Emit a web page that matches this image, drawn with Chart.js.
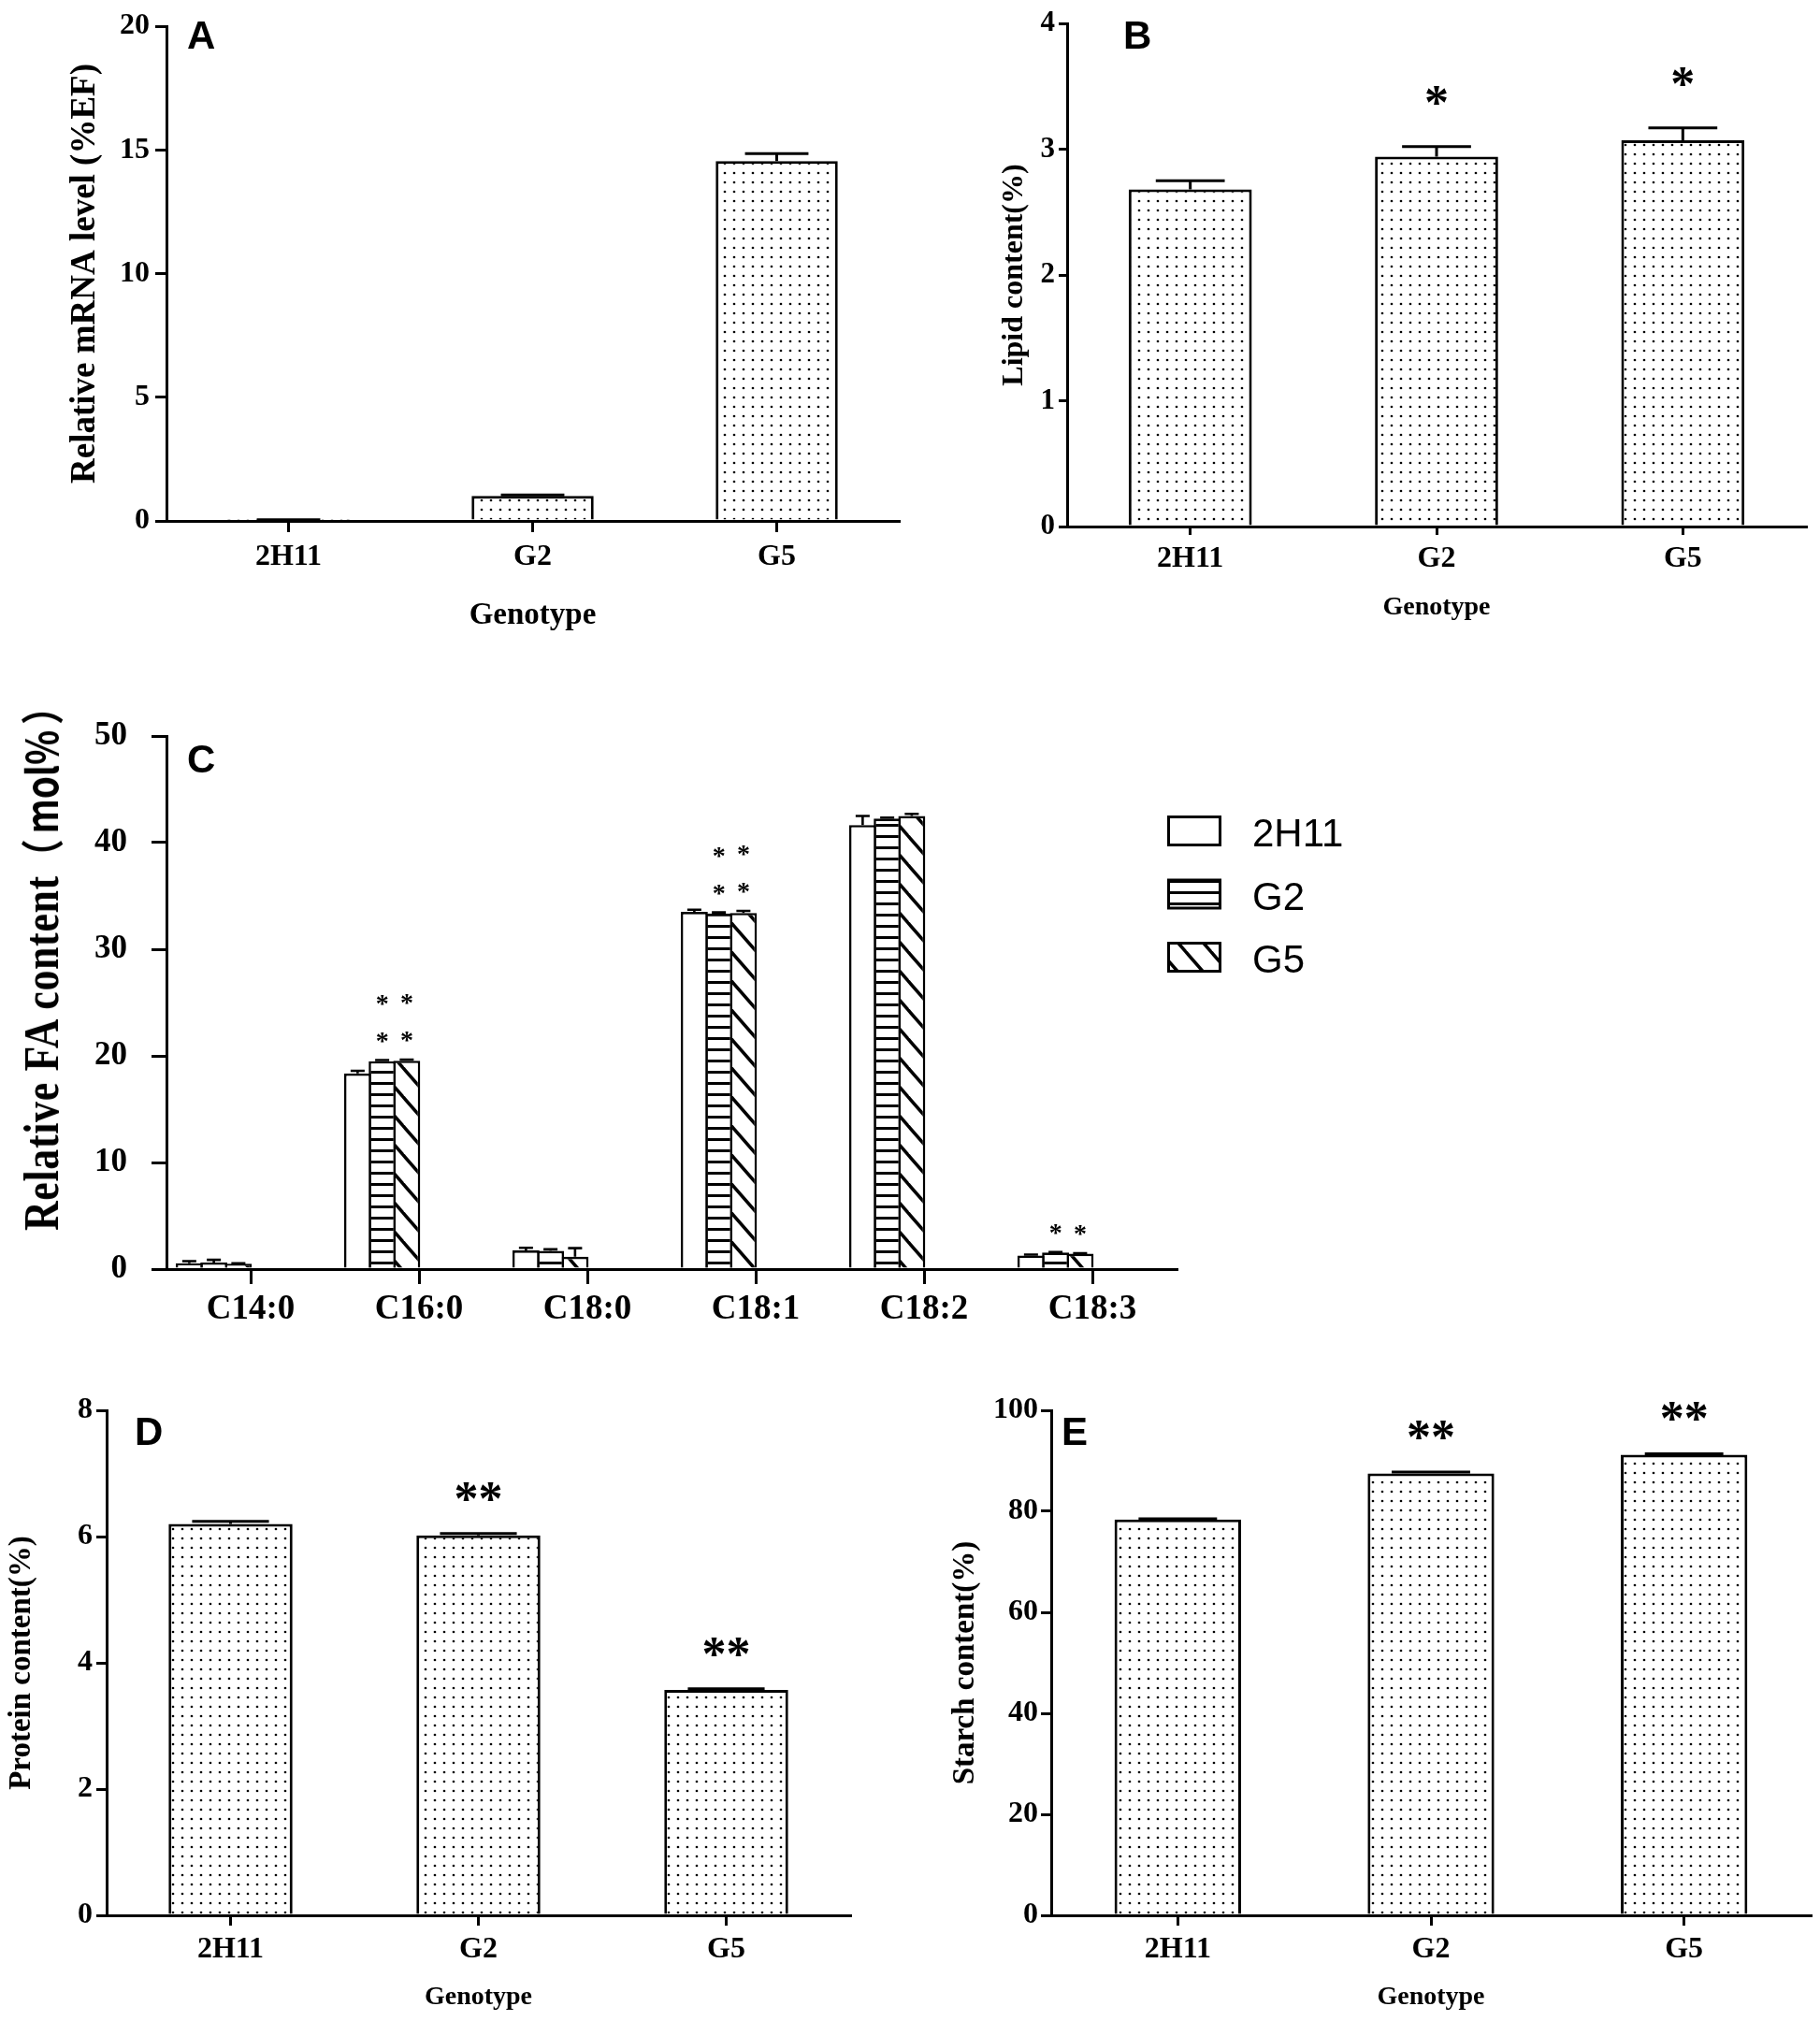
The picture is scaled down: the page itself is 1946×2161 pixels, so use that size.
<!DOCTYPE html>
<html><head><meta charset="utf-8">
<script src="https://cdn.jsdelivr.net/npm/chart.js@4.4.1/dist/chart.umd.min.js"></script>
<style>
html,body{margin:0;padding:0;background:#fff;}
body{width:1946px;height:2161px;position:relative;overflow:hidden;}
canvas.panel{position:absolute;display:block;}
.letter{position:absolute;font:bold 42px 'Liberation Sans',Arial,sans-serif;line-height:1;color:#000;}
#ctitle{position:absolute;left:42px;top:1026px;white-space:nowrap;color:#000;line-height:1;
  font:bold 52px 'Liberation Serif','Times New Roman',serif;letter-spacing:0.9px;
  transform:translate(-50%,-50%) rotate(-90deg) scaleX(0.84);}
#ctitle .cjk{font:bold 46px 'Noto Sans CJK SC','Noto Sans',sans-serif;letter-spacing:0;}
#ctitle .unit{display:inline-block;margin:0 7px;}
</style></head><body>
<canvas id="cA" class="panel" style="left:0px;top:0px" width="973" height="700"></canvas>
<canvas id="cB" class="panel" style="left:973px;top:0px" width="973" height="700"></canvas>
<canvas id="cC" class="panel" style="left:0px;top:740px" width="1460" height="700"></canvas>
<canvas id="cD" class="panel" style="left:0px;top:1470px" width="973" height="691"></canvas>
<canvas id="cE" class="panel" style="left:973px;top:1470px" width="973" height="691"></canvas>
<div class="letter" style="left:200px;top:17px">A</div>
<div class="letter" style="left:1201px;top:17px">B</div>
<div class="letter" style="left:200px;top:791px">C</div>
<div class="letter" style="left:144px;top:1510px">D</div>
<div class="letter" style="left:1135px;top:1510px">E</div>
<div id="ctitle">Relative FA content<span class="cjk">（<span class="unit">mol%</span>）</span></div>
<script>
// ---------- data ----------
const genotypes = ['2H11', 'G2', 'G5'];

const mrnaLevel = [0.02, 1.01, 14.55];
const mrnaErr   = [0.03, 0.04, 0.30];
const mrnaTicks = [0, 5, 10, 15, 20];

const lipidContent = [2.68, 2.94, 3.07];
const lipidErr     = [0.07, 0.08, 0.10];
const lipidSig     = ['', '*', '*'];
const lipidTicks   = [0, 1, 2, 3, 4];

const faTypes   = ['C14:0', 'C16:0', 'C18:0', 'C18:1', 'C18:2', 'C18:3'];
const fa2H11    = [0.55, 18.35, 1.75, 33.50, 41.65, 1.28];
const fa2H11Err = [0.20, 0.25, 0.25, 0.20, 0.85, 0.08];
const faG2      = [0.62, 19.50, 1.70, 33.35, 42.25, 1.55];
const faG2Err   = [0.25, 0.10, 0.15, 0.10, 0.10, 0.05];
const faG5      = [0.50, 19.55, 1.16, 33.40, 42.50, 1.44];
const faG5Err   = [0.05, 0.10, 0.80, 0.20, 0.20, 0.05];
const faSigRowsG2 = [0, 2, 0, 2, 0, 1];
const faSigRowsG5 = [0, 2, 0, 2, 0, 1];
const faTicks   = [0, 10, 20, 30, 40, 50];

const proteinContent = [6.20, 6.02, 3.57];
const proteinErr     = [0.04, 0.03, 0.02];
const proteinSig     = ['', '**', '**'];
const proteinTicks   = [0, 2, 4, 6, 8];

const starchContent = [78.4, 87.5, 91.2];
const starchErr     = [0.1, 0.3, 0.2];
const starchSig     = ['', '**', '**'];
const starchTicks   = [0, 20, 40, 60, 80, 100];

// ---------- patterns ----------
function makePattern(w, h, draw) {
  const c = document.createElement('canvas'); c.width = w; c.height = h;
  const g = c.getContext('2d'); g.fillStyle = '#fff'; g.fillRect(0, 0, w, h);
  draw(g, w, h);
  return g.createPattern(c, 'repeat');
}
const dotFill = makePattern(10, 10, g => { g.fillStyle = '#000'; g.beginPath(); g.arc(5, 5, 1.35, 0, Math.PI * 2); g.fill(); });
const hLineFill = makePattern(8, 12, g => { g.fillStyle = '#000'; g.fillRect(0, 9, 8, 3); });
const diagFill = makePattern(27, 31, (g, w, h) => {
  g.strokeStyle = '#000'; g.lineWidth = 3.5;
  for (let n = -1; n <= 1; n++) { g.beginPath(); g.moveTo(n * w - w, -h); g.lineTo(n * w + 2 * w, 2 * h); g.stroke(); }
});

// ---------- plugins ----------
const errorBars = {
  id: 'errorBars',
  afterDatasetsDraw(chart) {
    const o = chart.config.options.plugins.errorBars;
    const ctx = chart.ctx, ys = chart.scales.y;
    chart.data.datasets.forEach((ds, di) => {
      if (!ds.errors) return;
      chart.getDatasetMeta(di).data.forEach((el, i) => {
        const v = ds.data[i], e = ds.errors[i];
        if (v == null || e == null) return;
        const top = ys.getPixelForValue(v + e);
        const half = el.width * o.capRatio / 2;
        ctx.save();
        ctx.strokeStyle = '#000'; ctx.lineWidth = o.lineWidth;
        ctx.beginPath();
        ctx.moveTo(el.x, el.y); ctx.lineTo(el.x, top);
        ctx.moveTo(el.x - half, top); ctx.lineTo(el.x + half, top);
        ctx.stroke();
        ctx.restore();
      });
    });
  }
};
const sigMarks = {
  id: 'sigMarks',
  afterDatasetsDraw(chart) {
    const o = chart.config.options.plugins.sigMarks;
    if (!o) return;
    const ctx = chart.ctx, ys = chart.scales.y;
    chart.data.datasets.forEach((ds, di) => {
      if (!ds.sig) return;
      chart.getDatasetMeta(di).data.forEach((el, i) => {
        const s = ds.sig[i]; if (!s) return;
        const rows = ds.sigRows ? ds.sigRows[i] : 1;
        const top = ys.getPixelForValue(ds.data[i] + (ds.errors ? ds.errors[i] : 0));
        ctx.save();
        ctx.font = o.font; ctx.fillStyle = '#000'; ctx.textAlign = 'center'; ctx.textBaseline = 'alphabetic';
        for (let r = 0; r < rows; r++) {
          const cy = top - o.gap - r * o.rowGap;
          ctx.fillText(s, el.x, cy + o.size * 0.48);
        }
        ctx.restore();
      });
    });
  }
};
const patternLegend = {
  id: 'patternLegend',
  afterDraw(chart) {
    const o = chart.config.options.plugins.patternLegend;
    if (!o) return;
    const ctx = chart.ctx, a = chart.chartArea;
    const x0 = a.right + o.dx, y0 = a.top + o.dy;
    chart.data.datasets.forEach((ds, i) => {
      if (!ds.label) return;
      const y = y0 + i * o.rowGap;
      ctx.save();
      ctx.fillStyle = ds.backgroundColor; ctx.fillRect(x0, y, o.boxW, o.boxH);
      ctx.strokeStyle = '#000'; ctx.lineWidth = o.lw;
      ctx.strokeRect(x0 + o.lw / 2, y + o.lw / 2, o.boxW - o.lw, o.boxH - o.lw);
      ctx.fillStyle = '#000'; ctx.font = o.font; ctx.textAlign = 'left'; ctx.textBaseline = 'alphabetic';
      ctx.fillText(ds.label, x0 + o.textDx, y + o.boxH);
      ctx.restore();
    });
  }
};

// ---------- helpers ----------
const SERIF = "'Liberation Serif', 'Times New Roman', serif";
function scalesFor(p) {
  const x = {
    type: 'category', offset: true,
    grid: { offset: false, drawOnChartArea: false, drawTicks: true, tickLength: p.xTick, color: '#000', lineWidth: 3 },
    border: { display: true, color: '#000', width: 3 },
    ticks: { font: { family: SERIF, weight: 'bold', size: p.xFont }, color: '#000', padding: p.xPad, autoSkip: false, maxRotation: 0 },
    title: p.xTitle ? { display: true, text: p.xTitle, color: '#000', font: { family: SERIF, weight: 'bold', size: p.xTitleSize }, padding: { top: 0, bottom: p.xTitlePad } } : { display: false },
    afterFit: s => { s.height = p.H - p.area.b; }
  };
  const y = {
    type: 'linear', min: p.yTicks[0], max: p.yTicks[p.yTicks.length - 1],
    afterBuildTicks: s => { s.ticks = p.yTicks.map(v => ({ value: v })); },
    grid: { drawOnChartArea: false, drawTicks: true, tickLength: p.yTick, color: '#000', lineWidth: 3 },
    border: { display: true, color: '#000', width: 3 },
    ticks: { font: { family: SERIF, weight: 'bold', size: p.yFont }, color: '#000', padding: p.yPad },
    title: p.yTitle ? { display: true, text: p.yTitle, color: '#000', font: { family: SERIF, weight: 'bold', size: p.yTitleSize }, padding: { top: p.yTitlePad, bottom: 0 } } : { display: false },
    afterFit: s => { s.width = p.area.l; }
  };
  return { x, y };
}
function baseOptions(p, extraPlugins) {
  return {
    responsive: false, animation: false, devicePixelRatio: 1, events: [],
    layout: { padding: { left: 0, top: p.area.t, right: p.W - p.area.r, bottom: 0 } },
    scales: scalesFor(p),
    plugins: Object.assign({ legend: { display: false }, tooltip: { enabled: false } }, extraPlugins)
  };
}
function singleBarChart(id, p, values, errs, sig, capRatio, sigOpts) {
  const ds = { data: values, errors: errs, backgroundColor: dotFill, borderColor: '#000', borderWidth: 3,
               borderSkipped: 'bottom', barPercentage: 0.5, categoryPercentage: 1 };
  if (sig) ds.sig = sig;
  const extra = { errorBars: { capRatio, lineWidth: 3 } };
  if (sigOpts) extra.sigMarks = sigOpts;
  return new Chart(document.getElementById(id), {
    type: 'bar',
    data: { labels: genotypes, datasets: [ds] },
    options: baseOptions(p, extra),
    plugins: [errorBars, sigMarks]
  });
}
const bigStars = { font: "bold 52px " + SERIF, size: 52, gap: 45, rowGap: 0 };

// ---------- A ----------
singleBarChart('cA', {
  W: 973, H: 700, area: { l: 178, t: 28, r: 961, b: 557 }, yTicks: mrnaTicks,
  xTick: 12, xPad: 8, xFont: 32, yTick: 12, yPad: 6, yFont: 32,
  yTitle: 'Relative mRNA level (%EF)', yTitleSize: 37, yTitlePad: 68.8,
  xTitle: 'Genotype', xTitleSize: 33, xTitlePad: 22
}, mrnaLevel, mrnaErr, null, 0.52, null);

// ---------- B ----------
singleBarChart('cB', {
  W: 973, H: 700, area: { l: 168, t: 25, r: 958, b: 563 }, yTicks: lipidTicks,
  xTick: 9, xPad: 7, xFont: 32, yTick: 9, yPad: 4, yFont: 31,
  yTitle: 'Lipid content(%)', yTitleSize: 32, yTitlePad: 92.8,
  xTitle: 'Genotype', xTitleSize: 28, xTitlePad: 33.7
}, lipidContent, lipidErr, lipidSig, 0.56, Object.assign({}, bigStars, { gap: 55 }));

// ---------- C ----------
(function () {
  const p = { W: 1460, H: 700, area: { l: 178, t: 44, r: 1258, b: 617 }, yTicks: faTicks,
    xTick: 16, xPad: 5, xFont: 37, yTick: 16, yPad: 26, yFont: 35 };
  const common = { borderColor: '#000', borderWidth: 2.6, borderSkipped: 'bottom', barPercentage: 1.1, categoryPercentage: 0.875 };
  const spacer = () => Object.assign({}, common, { label: '', data: faTypes.map(() => null), borderWidth: 0, backgroundColor: 'rgba(0,0,0,0)' });
  new Chart(document.getElementById('cC'), {
    type: 'bar',
    data: {
      labels: faTypes,
      datasets: [
        Object.assign({}, common, { label: '2H11', data: fa2H11, errors: fa2H11Err, backgroundColor: '#fff' }),
        Object.assign({}, common, { label: 'G2', data: faG2, errors: faG2Err, backgroundColor: hLineFill,
          sig: faSigRowsG2.map(n => n ? '*' : ''), sigRows: faSigRowsG2 }),
        Object.assign({}, common, { label: 'G5', data: faG5, errors: faG5Err, backgroundColor: diagFill,
          sig: faSigRowsG5.map(n => n ? '*' : ''), sigRows: faSigRowsG5 }),
        spacer(), spacer(), spacer()
      ]
    },
    options: baseOptions(p, {
      errorBars: { capRatio: 0.52, lineWidth: 2.6 },
      sigMarks: { font: "bold 28px " + SERIF, size: 28, gap: 25, rowGap: 40 },
      patternLegend: { dx: -10, dy: 85, rowGap: 67.5, boxW: 58, boxH: 33, lw: 3, textDx: 91,
                       font: "42px 'Liberation Sans', Arial, sans-serif" }
    }),
    plugins: [errorBars, sigMarks, patternLegend]
  });
})();

// ---------- D ----------
singleBarChart('cD', {
  W: 973, H: 691, area: { l: 114, t: 38, r: 909, b: 578 }, yTicks: proteinTicks,
  xTick: 11, xPad: 7, xFont: 32, yTick: 11, yPad: 4, yFont: 32,
  yTitle: 'Protein content(%)', yTitleSize: 33, yTitlePad: 3.2,
  xTitle: 'Genotype', xTitleSize: 28, xTitlePad: 8.7
}, proteinContent, proteinErr, proteinSig, 0.62, bigStars);

// ---------- E ----------
singleBarChart('cE', {
  W: 973, H: 691, area: { l: 151, t: 38, r: 963, b: 578 }, yTicks: starchTicks,
  xTick: 11, xPad: 7, xFont: 32, yTick: 11, yPad: 3, yFont: 32,
  yTitle: 'Starch content(%)', yTitleSize: 33, yTitlePad: 39.2,
  xTitle: 'Genotype', xTitleSize: 28, xTitlePad: 8.7
}, starchContent, starchErr, starchSig, 0.62, bigStars);
</script>
</body></html>
